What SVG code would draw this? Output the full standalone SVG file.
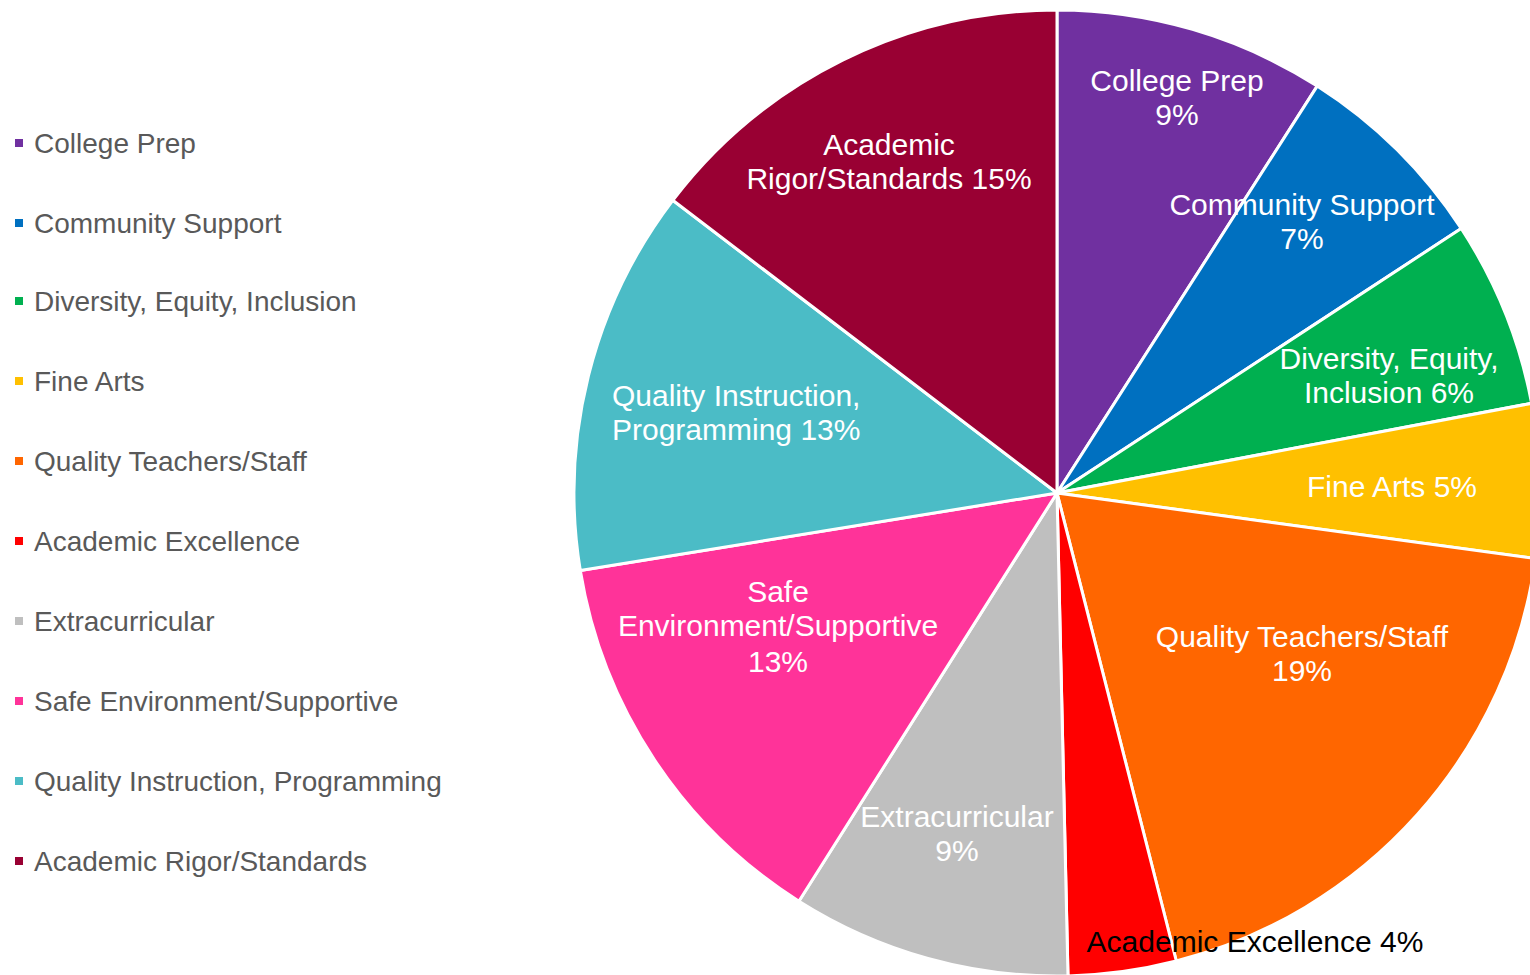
<svg xmlns="http://www.w3.org/2000/svg" width="1530" height="975" viewBox="0 0 1530 975">
<style>
.s{stroke:#fff;stroke-width:3;stroke-linejoin:round}
.lbl{font-family:"Liberation Sans",Arial,sans-serif;font-size:30px;fill:#fff;text-anchor:middle}
.leg{font-family:"Liberation Sans",Arial,sans-serif;font-size:28px;fill:#595959}
</style>
<rect width="1530" height="975" fill="#fff"/>
<g id="pie">
<path id="college-prep" class="s" fill="#7030A0" d="M1057,493 L1057,10 A483,483 0 0 1 1317.2,86.1 Z"/>
<path id="community-support" class="s" fill="#0070C0" d="M1057,493 L1317.2,86.1 A483,483 0 0 1 1461.2,228.5 Z"/>
<path id="diversity" class="s" fill="#00B050" d="M1057,493 L1461.2,228.5 A483,483 0 0 1 1531.6,403.3 Z"/>
<path id="fine-arts" class="s" fill="#FFC000" d="M1057,493 L1531.6,403.3 A483,483 0 0 1 1535.5,558.5 Z"/>
<path id="quality-teachers" class="s" fill="#FF6600" d="M1057,493 L1535.5,558.5 A483,483 0 0 1 1176.3,961 Z"/>
<path id="academic-excellence" class="s" fill="#FF0000" d="M1057,493 L1176.3,961 A483,483 0 0 1 1068,975.9 Z"/>
<path id="extracurricular" class="s" fill="#BFBFBF" d="M1057,493 L1068,975.9 A483,483 0 0 1 798.9,901.2 Z"/>
<path id="safe-environment" class="s" fill="#FF3399" d="M1057,493 L798.9,901.2 A483,483 0 0 1 580.3,570.6 Z"/>
<path id="quality-instruction" class="s" fill="#4BBCC6" d="M1057,493 L580.3,570.6 A483,483 0 0 1 672.8,200.3 Z"/>
<path id="academic-rigor" class="s" fill="#990033" d="M1057,493 L672.8,200.3 A483,483 0 0 1 1057,10 Z"/>
</g>
<g id="labels">
<text class="lbl" x="1177" y="91">College Prep</text>
<text class="lbl" x="1177" y="125">9%</text>
<text class="lbl" x="1302" y="215">Community Support</text>
<text class="lbl" x="1302" y="249">7%</text>
<text class="lbl" x="1389" y="369">Diversity, Equity,</text>
<text class="lbl" x="1389" y="403">Inclusion 6%</text>
<text class="lbl" x="1392" y="497">Fine Arts 5%</text>
<text class="lbl" x="1302" y="647">Quality Teachers/Staff</text>
<text class="lbl" x="1302" y="681">19%</text>
<text class="lbl" x="1255" y="952" style="fill:#000">Academic Excellence 4%</text>
<text class="lbl" x="957" y="827">Extracurricular</text>
<text class="lbl" x="957" y="861">9%</text>
<text class="lbl" x="778" y="602">Safe</text>
<text class="lbl" x="778" y="636">Environment/Supportive</text>
<text class="lbl" x="778" y="672">13%</text>
<text class="lbl" x="612" y="406" style="text-anchor:start">Quality Instruction,</text>
<text class="lbl" x="612" y="440" style="text-anchor:start">Programming 13%</text>
<text class="lbl" x="889" y="155">Academic</text>
<text class="lbl" x="889" y="189">Rigor/Standards 15%</text>
</g>
<g id="legend">
<rect x="15" y="139" width="8" height="8" fill="#7030A0"/><text class="leg" x="34" y="153">College Prep</text>
<rect x="15" y="219" width="8" height="8" fill="#0070C0"/><text class="leg" x="34" y="233">Community Support</text>
<rect x="15" y="297" width="8" height="8" fill="#00B050"/><text class="leg" x="34" y="311">Diversity, Equity, Inclusion</text>
<rect x="15" y="377" width="8" height="8" fill="#FFC000"/><text class="leg" x="34" y="391">Fine Arts</text>
<rect x="15" y="457" width="8" height="8" fill="#FF6600"/><text class="leg" x="34" y="471">Quality Teachers/Staff</text>
<rect x="15" y="537" width="8" height="8" fill="#FF0000"/><text class="leg" x="34" y="551">Academic Excellence</text>
<rect x="15" y="617" width="8" height="8" fill="#BFBFBF"/><text class="leg" x="34" y="631">Extracurricular</text>
<rect x="15" y="697" width="8" height="8" fill="#FF3399"/><text class="leg" x="34" y="711">Safe Environment/Supportive</text>
<rect x="15" y="777" width="8" height="8" fill="#4BBCC6"/><text class="leg" x="34" y="791">Quality Instruction, Programming</text>
<rect x="15" y="857" width="8" height="8" fill="#990033"/><text class="leg" x="34" y="871">Academic Rigor/Standards</text>
</g>
</svg>
